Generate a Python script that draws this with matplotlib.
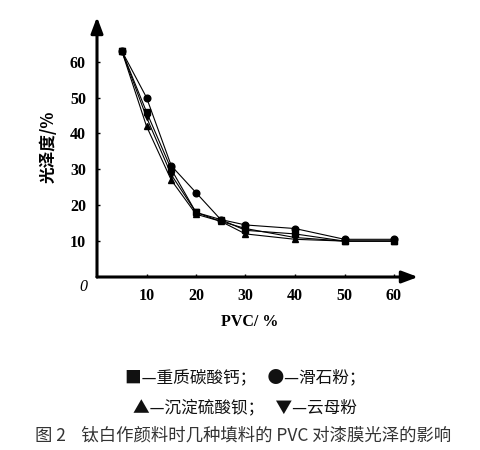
import matplotlib
matplotlib.use("Agg")
import matplotlib.pyplot as plt

plt.rcParams['font.family'] = ['Noto Sans CJK SC', 'DejaVu Sans']

pvc = [5, 10, 15, 20, 25, 30, 40, 50, 60]
caco3 = [63, 46, 30, 18, 16, 13, 12, 10, 10]      # ■ 重质碳酸钙
talc = [63, 50, 31, 23.5, 16, 14.5, 13.5, 10.5, 10.5]  # ● 滑石粉
baso4 = [63, 42, 27, 17.5, 15.5, 12, 10.5, 10, 10]  # ▲ 沉淀硫酸钡
mica = [63, 44.5, 28.5, 18, 15.5, 13.5, 11, 10, 10]  # ▼ 云母粉

xticks = [10, 20, 30, 40, 50, 60]
yticks = [10, 20, 30, 40, 50, 60]

fig = plt.figure(figsize=(4.81, 4.5), dpi=100)
ax = fig.add_axes([97/481, 1-277/450, (418-97)/481, (277-17)/450])
ax.set_xlim(0, (418-97)/4.95)
ax.set_ylim(0, (277-17)/3.59)

for ys, m in [(caco3, 's'), (talc, 'o'), (baso4, '^'), (mica, 'v')]:
    ax.plot(pvc, ys, color='black', lw=0.8, marker=m, ms=4.8, clip_on=False)

for s in ax.spines.values():
    s.set_visible(False)

ax.annotate('', xy=(0, 1.0), xytext=(0, 0), xycoords='axes fraction',
            arrowprops=dict(arrowstyle='-|>,head_length=0.8,head_width=0.3', lw=2.2, color='black',
                            mutation_scale=12, shrinkA=0, shrinkB=0))
ax.annotate('', xy=(1.0, 0), xytext=(0, 0), xycoords='axes fraction',
            arrowprops=dict(arrowstyle='-|>,head_length=0.8,head_width=0.3', lw=2.2, color='black',
                            mutation_scale=12, shrinkA=0, shrinkB=0))

tickfont = dict(family='Liberation Serif', weight='bold', size=11.5)
ax.set_xticks(xticks)
ax.set_yticks(yticks)
ax.set_xticklabels([str(v) for v in xticks], **tickfont)
ax.set_yticklabels([str(v) for v in yticks], **tickfont)
ax.tick_params(axis='both', direction='in', length=2, width=1, pad=8)
ax.tick_params(axis='x', pad=8)
ax.annotate('0', xy=(0, 0), xytext=(-10, -7), textcoords='offset points',
            family='Liberation Serif', style='italic', size=11.5, ha='center', va='center')

ax.set_ylabel('光泽度/%', fontsize=12, fontweight='bold', labelpad=9, style='italic')
fig.text(250/481, 1-322/450, 'PVC/ %', family='Liberation Serif', weight='bold', size=11.5,
         ha='center', va='center')

fig.text(245/481, 1-378/450, '■—重质碳酸钙；   ●—滑石粉；', size=12, ha='center', va='center', color='#111111')
fig.text(245/481, 1-408/450, '▲—沉淀硫酸钡；   ▼—云母粉', size=12, ha='center', va='center', color='#111111')
fig.text(243/481, 1-436/450, '图 2    钛白作颜料时几种填料的 PVC 对漆膜光泽的影响', size=12.5,
         ha='center', va='center', color='#333333')

fig.savefig('out.png', dpi=100)
